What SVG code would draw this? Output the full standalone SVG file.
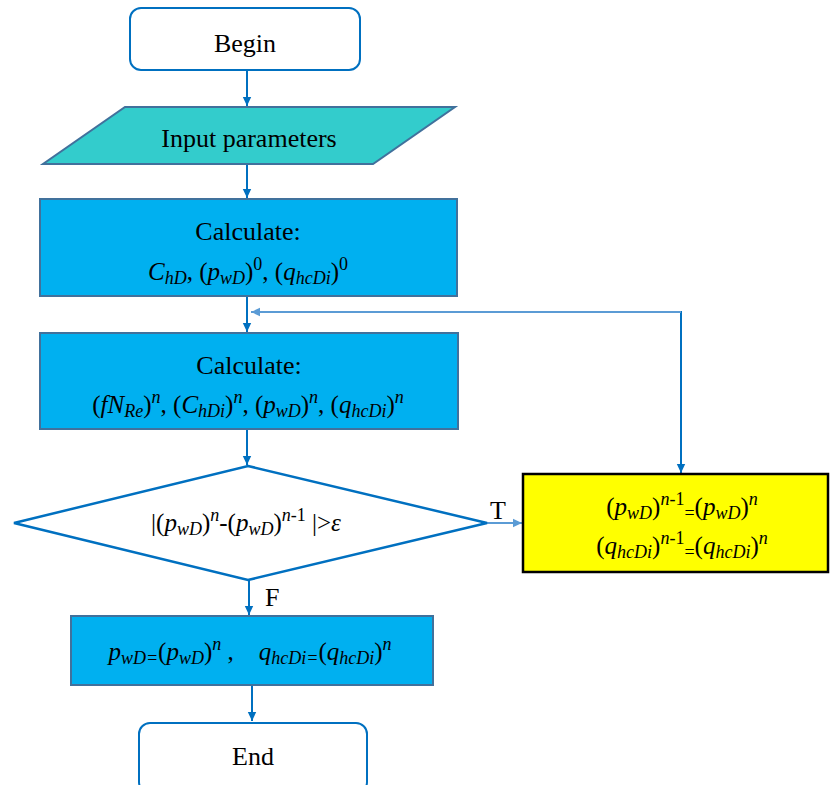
<svg xmlns="http://www.w3.org/2000/svg" width="830" height="785" viewBox="0 0 830 785">
<defs>
<marker id="ad" markerUnits="userSpaceOnUse" markerWidth="10" markerHeight="10" refX="9" refY="5" orient="auto"><path d="M0,0.8 L9,5 L0,9.2 Z" fill="#0070C0"/></marker>
<marker id="al" markerUnits="userSpaceOnUse" markerWidth="10" markerHeight="10" refX="9" refY="5" orient="auto"><path d="M0,0.8 L9,5 L0,9.2 Z" fill="#5B9BD5"/></marker>
</defs>
<style>
text{font-family:"Liberation Serif","Times New Roman",serif;fill:#000;}
.t{font-size:26px;}
.m{font-size:25px;}
.i{font-style:italic;}
.s{font-size:18px;}
.term{fill:#fff;stroke:#0070C0;stroke-width:2;}
.proc{fill:#00B0F0;stroke:#41719C;stroke-width:2;}
.c{fill:none;stroke:#0070C0;stroke-width:2;}
.cl{fill:none;stroke:#5B9BD5;stroke-width:2;}
</style>
<g id="connectors">
<line class="c" x1="247" y1="71" x2="247" y2="106" marker-end="url(#ad)"/>
<line class="c" x1="247" y1="164" x2="247" y2="198" marker-end="url(#ad)"/>
<line class="c" x1="247" y1="297" x2="247" y2="332" marker-end="url(#ad)"/>
<line class="c" x1="247" y1="430" x2="247" y2="465" marker-end="url(#ad)"/>
<line class="c" x1="249" y1="580" x2="249" y2="615" marker-end="url(#ad)"/>
<line class="c" x1="252" y1="686" x2="252" y2="721" marker-end="url(#ad)"/>
<line class="cl" x1="487" y1="523" x2="522" y2="523" marker-end="url(#al)"/>
<line class="c" x1="681" y1="311" x2="681" y2="473" marker-end="url(#ad)"/>
<line class="cl" x1="681" y1="312" x2="251" y2="312" marker-end="url(#al)"/>
<text class="t" x="490" y="519">T</text>
<text class="t" x="265" y="606">F</text>
</g>
<g id="begin">
<rect class="term" x="130" y="8" width="230" height="62" rx="11"/>
<text class="t" x="245" y="52" text-anchor="middle">Begin</text>
</g>
<g id="input">
<polygon points="125,107 455,107 373,164 43,164" fill="#33CCCC" stroke="#41719C" stroke-width="2"/>
<text class="t" x="249" y="147" text-anchor="middle">Input parameters</text>
</g>
<g id="calc0">
<rect class="proc" x="40" y="199" width="417" height="97"/>
<text class="t" x="248" y="240" text-anchor="middle">Calculate:</text>
<text class="m" x="248" y="280" text-anchor="middle"><tspan class="i">C</tspan><tspan class="i s" dy="4">hD</tspan><tspan dy="-4">, (</tspan><tspan class="i">p</tspan><tspan class="i s" dy="4">wD</tspan><tspan dy="-4">)</tspan><tspan class="s" dy="-10">0</tspan><tspan dy="10">, (</tspan><tspan class="i">q</tspan><tspan class="i s" dy="4">hcDi</tspan><tspan dy="-4">)</tspan><tspan class="s" dy="-10">0</tspan></text>
</g>
<g id="calcn">
<rect class="proc" x="40" y="333" width="418" height="96"/>
<text class="t" x="249" y="374" text-anchor="middle">Calculate:</text>
<text class="m" x="248" y="413" text-anchor="middle">(<tspan class="i">fN</tspan><tspan class="i s" dy="4">Re</tspan><tspan dy="-4">)</tspan><tspan class="i s" dy="-10">n</tspan><tspan dy="10">, (</tspan><tspan class="i">C</tspan><tspan class="i s" dy="4">hDi</tspan><tspan dy="-4">)</tspan><tspan class="i s" dy="-10">n</tspan><tspan dy="10">, (</tspan><tspan class="i">p</tspan><tspan class="i s" dy="4">wD</tspan><tspan dy="-4">)</tspan><tspan class="i s" dy="-10">n</tspan><tspan dy="10">, (</tspan><tspan class="i">q</tspan><tspan class="i s" dy="4">hcDi</tspan><tspan dy="-4">)</tspan><tspan class="i s" dy="-10">n</tspan></text>
</g>
<g id="decision">
<polygon points="248,466 487,523 248,580 14,523" fill="#fff" stroke="#0070C0" stroke-width="2.5"/>
<text class="m" x="246" y="531" text-anchor="middle">|(<tspan class="i">p</tspan><tspan class="i s" dy="4">wD</tspan><tspan dy="-4">)</tspan><tspan class="i s" dy="-10">n</tspan><tspan dy="10">-(</tspan><tspan class="i">p</tspan><tspan class="i s" dy="4">wD</tspan><tspan dy="-4">)</tspan><tspan class="s" dy="-10"><tspan class="i">n</tspan>-1</tspan><tspan dy="10"> |&gt;</tspan><tspan class="i">ε</tspan></text>
</g>
<g id="update">
<rect x="523" y="474" width="305" height="98" fill="#FFFF00" stroke="#000" stroke-width="2.5"/>
<text class="m" x="682" y="515" text-anchor="middle">(<tspan class="i">p</tspan><tspan class="i s" dy="4">wD</tspan><tspan dy="-4">)</tspan><tspan class="s" dy="-10"><tspan class="i">n</tspan>-1</tspan><tspan class="s" dy="14">=</tspan><tspan dy="-4">(</tspan><tspan class="i">p</tspan><tspan class="i s" dy="4">wD</tspan><tspan dy="-4">)</tspan><tspan class="i s" dy="-10">n</tspan></text>
<text class="m" x="682" y="554" text-anchor="middle">(<tspan class="i">q</tspan><tspan class="i s" dy="4">hcDi</tspan><tspan dy="-4">)</tspan><tspan class="s" dy="-10"><tspan class="i">n</tspan>-1</tspan><tspan class="s" dy="14">=</tspan><tspan dy="-4">(</tspan><tspan class="i">q</tspan><tspan class="i s" dy="4">hcDi</tspan><tspan dy="-4">)</tspan><tspan class="i s" dy="-10">n</tspan></text>
</g>
<g id="result">
<rect class="proc" x="71" y="616" width="362" height="69"/>
<text class="m" x="250" y="660" text-anchor="middle"><tspan class="i">p</tspan><tspan class="i s" dy="4">wD=</tspan><tspan dy="-4">(</tspan><tspan class="i">p</tspan><tspan class="i s" dy="4">wD</tspan><tspan dy="-4">)</tspan><tspan class="i s" dy="-10">n</tspan><tspan dy="10" xml:space="preserve"> ,    </tspan><tspan class="i">q</tspan><tspan class="i s" dy="4">hcDi=</tspan><tspan dy="-4">(</tspan><tspan class="i">q</tspan><tspan class="i s" dy="4">hcDi</tspan><tspan dy="-4">)</tspan><tspan class="i s" dy="-10">n</tspan></text>
</g>
<g id="end">
<rect class="term" x="139" y="723" width="228" height="70" rx="11"/>
<text class="t" x="253" y="765" text-anchor="middle">End</text>
</g>
</svg>
